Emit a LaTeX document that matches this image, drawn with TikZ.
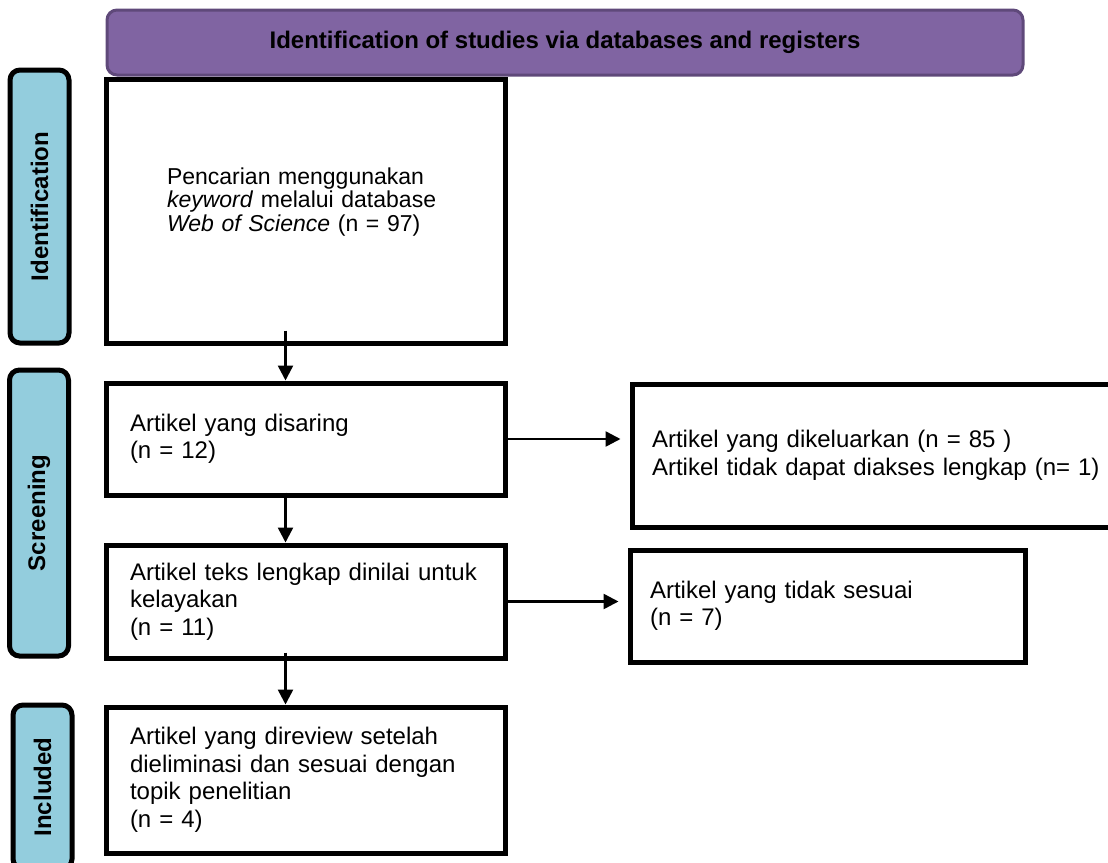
\documentclass[tikz,border=0pt]{standalone}
\usepackage{fontspec}
\setmainfont{Liberation Sans}
\usetikzlibrary{positioning, arrows.meta}

\definecolor{phasefill}{HTML}{8064A2}
\definecolor{phaseline}{HTML}{5F497A}
\definecolor{stagefill}{HTML}{93CDDD}

\begin{document}
\begin{tikzpicture}[
    x=1pt, y=-1pt,
    box/.style={
        rectangle,
        draw=black,
        fill=white,
        line width=5pt,
        align=left,
        inner xsep=24pt,
        inner ysep=0pt,
        text width=351pt,
        font=\fontsize{24}{27.5}\selectfont
    },
    sidebox/.style={
        box,
        inner xsep=20pt
    },
    stage/.style={
        rectangle,
        draw=black,
        fill=stagefill,
        rounded corners=10pt,
        line width=5pt,
        minimum height=59pt,
        inner sep=0pt,
        font=\fontsize{24}{28}\selectfont\bfseries,
        rotate=90
    },
    phase/.style={
        rectangle,
        draw=phaseline,
        fill=phasefill,
        rounded corners=10pt,
        line width=3pt,
        minimum width=916pt,
        minimum height=65pt,
        font=\fontsize{24}{28}\selectfont\bfseries
    },
    arrow/.style={
        -{Triangle[length=15pt,width=15pt]},
        line width=2.5pt,
        color=black
    }
]
\useasboundingbox (0,0) rectangle (1108,862);

% Header
\node[phase] (head) at (565,42.5) {Identification of studies via databases and registers};

% Stage bars
\node[stage, minimum width=273pt] (ident)  at (39.5,206.5) {Identification};
\node[stage, minimum width=286pt] (screen) at (39,513)     {Screening};
\node[stage, minimum width=164pt] (incl)   at (42.5,787)   {Included};

% Main column
\node[box, inner xsep=61pt, text width=277pt, minimum height=264pt,
      font=\fontsize{23}{23.5}\selectfont] (search) at (305.5,211)
    {Pencarian menggunakan\\ \textit{keyword} melalui database\\ \textit{Web of Science} (n = 97)\\ ~};
\node[box, minimum height=112pt] (screened) at (305.5,439)
    {Artikel yang disaring\\(n = 12)};
\node[box, minimum height=113pt] (eligible) at (305.5,601.5)
    {Artikel teks lengkap dinilai untuk\\kelayakan\\(n = 11)};
\node[box, minimum height=146pt] (included) at (305.5,780)
    {Artikel yang direview setelah\\dieliminasi dan sesuai dengan\\topik penelitian\\(n = 4)};

% Side column
\node[sidebox, text width=453pt, minimum height=143pt] (excluded) at (878.5,455.5)
    {Artikel yang dikeluarkan (n = 85 )\\Artikel tidak dapat diakses lengkap (n= 1)};
\node[sidebox, text width=355pt, minimum height=112pt] (notfit) at (827.5,606)
    {Artikel yang tidak sesuai\\(n = 7)};

% Flow down
\draw[arrow] ([xshift=-20pt,yshift=15pt]search.south) -- ([xshift=-20pt]screened.north);
\draw[arrow] ([xshift=-20pt,yshift=5pt]screened.south) -- ([xshift=-20pt]eligible.north);
\draw[arrow] ([xshift=-20pt,yshift=8pt]eligible.south) -- ([xshift=-20pt]included.north);

% Flow right
\draw[arrow, shorten >=9pt] (screened.east) -- (screened.east -| excluded.west);
\draw[arrow, shorten >=9pt] (eligible.east) -- (eligible.east -| notfit.west);

\end{tikzpicture}
\end{document}
